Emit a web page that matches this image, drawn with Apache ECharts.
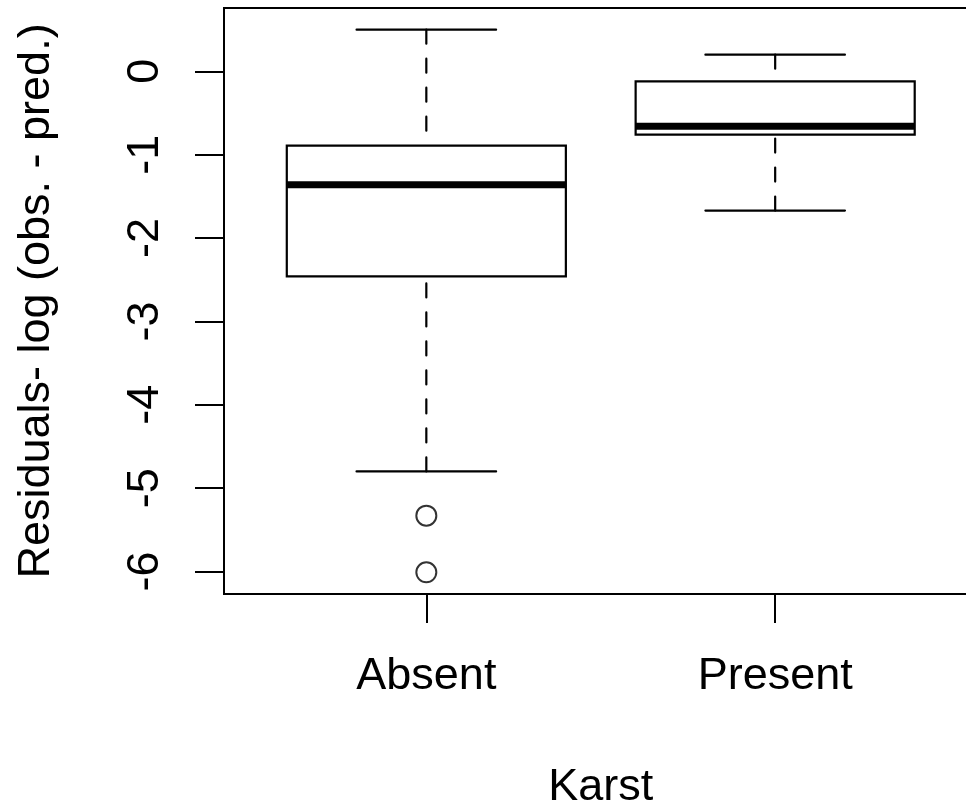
<!DOCTYPE html>
<html>
<head>
<meta charset="utf-8">
<title>Residuals by karst presence</title>
<script src="https://cdn.jsdelivr.net/npm/echarts@6/dist/echarts.min.js"></script>
<style>
  html, body { margin: 0; padding: 0; background: #ffffff; }
  #chart { width: 966px; height: 806px; }
</style>
</head>
<body>
<div id="chart"></div>
<script>
// Five-number summaries of the residuals for each karst group
const groups = ['Absent', 'Present'];
const whiskerLow = [-4.80, -1.67];
const quartile1 = [-2.46, -0.76];
const medians = [-1.36, -0.66];
const quartile3 = [-0.89, -0.12];
const whiskerHigh = [0.50, 0.20];

// Points beyond the whiskers
const outlierGroup = ['Absent', 'Absent'];
const outlierValues = [-5.33, -6.01];

// Tick labels on the value axis
const yTicks = [-6, -5, -4, -3, -2, -1, 0];

const FONT = 'Liberation Sans, Arial, Helvetica, sans-serif';
const groupPos = groups.map((g, i) => i + 1);

const boxData = groups.map((g, i) => [
  groupPos[i], whiskerLow[i], quartile1[i], medians[i], quartile3[i], whiskerHigh[i]
]);
const outlierData = outlierValues.map((v, i) => [groups.indexOf(outlierGroup[i]) + 1, v]);

const BOX_HALF = 0.4;   // half box width in axis units
const CAP_HALF = 0.2;   // half staple width in axis units

function renderBox(params, api) {
  const x = api.value(0);
  const lo = api.coord([x, api.value(1)]);
  const q1 = api.coord([x, api.value(2)]);
  const md = api.coord([x, api.value(3)]);
  const q3 = api.coord([x, api.value(4)]);
  const hi = api.coord([x, api.value(5)]);
  const bl = api.coord([x - BOX_HALF, 0])[0];
  const br = api.coord([x + BOX_HALF, 0])[0];
  const cl = api.coord([x - CAP_HALF, 0])[0];
  const cr = api.coord([x + CAP_HALF, 0])[0];
  const cx = lo[0];
  const dashed = { stroke: '#000', lineWidth: 2.2, lineDash: [14, 15], lineCap: 'round', fill: null };
  const solid = { stroke: '#000', lineWidth: 2.2, lineCap: 'round', fill: null };
  return {
    type: 'group',
    children: [
      { type: 'line', shape: { x1: cx, y1: hi[1], x2: cx, y2: q3[1] }, style: dashed },
      { type: 'line', shape: { x1: cx, y1: lo[1], x2: cx, y2: q1[1] }, style: dashed },
      { type: 'line', shape: { x1: cl, y1: hi[1], x2: cr, y2: hi[1] }, style: solid },
      { type: 'line', shape: { x1: cl, y1: lo[1], x2: cr, y2: lo[1] }, style: solid },
      { type: 'rect', shape: { x: bl, y: q3[1], width: br - bl, height: q1[1] - q3[1] },
        style: { fill: '#fff', stroke: '#000', lineWidth: 2.2 } },
      { type: 'line', shape: { x1: bl, y1: md[1], x2: br, y2: md[1] },
        style: { stroke: '#000', lineWidth: 7, lineCap: 'butt' } }
    ]
  };
}

const chart = echarts.init(document.getElementById('chart'), null, { renderer: 'canvas' });
chart.setOption({
  animation: false,
  backgroundColor: '#ffffff',
  grid: {
    left: 224, top: 8, bottom: 212, right: -11.5,
    containLabel: false,
    outerBoundsMode: 'none',
    show: true, borderColor: '#000', borderWidth: 2, backgroundColor: 'transparent'
  },
  xAxis: {
    type: 'value',
    min: 0.42, max: 2.58,
    name: 'Karst',
    nameLocation: 'middle',
    nameGap: 171,
    nameTextStyle: { fontFamily: FONT, fontSize: 45, color: '#000' },
    axisLine: { show: true, onZero: false, lineStyle: { color: '#000', width: 2 } },
    splitLine: { show: false },
    axisTick: { show: true, customValues: groupPos, length: 29, lineStyle: { color: '#000', width: 2 } },
    axisLabel: {
      customValues: groupPos,
      formatter: v => groups[Math.round(v) - 1],
      margin: 60,
      fontFamily: FONT, fontSize: 45, color: '#000'
    }
  },
  yAxis: {
    type: 'value',
    min: -6.27, max: 0.76,
    name: 'Residuals- log (obs. - pred.)',
    nameLocation: 'middle',
    nameRotate: 90,
    nameGap: 165,
    nameTextStyle: { fontFamily: FONT, fontSize: 45, color: '#000' },
    axisLine: { show: true, onZero: false, lineStyle: { color: '#000', width: 2 } },
    splitLine: { show: false },
    axisTick: { show: true, customValues: yTicks, length: 29, lineStyle: { color: '#000', width: 2 } },
    axisLabel: {
      customValues: yTicks,
      rotate: 90,
      margin: 56,
      fontFamily: FONT, fontSize: 45, color: '#000'
    }
  },
  series: [
    {
      type: 'custom',
      renderItem: renderBox,
      encode: { x: 0, y: [1, 2, 3, 4, 5] },
      data: boxData,
      z: 2
    },
    {
      type: 'scatter',
      symbol: 'emptyCircle',
      symbolSize: 20,
      itemStyle: { color: '#000', borderColor: '#000', borderWidth: 2 },
      data: outlierData,
      z: 3
    }
  ]
});
</script>
</body>
</html>
